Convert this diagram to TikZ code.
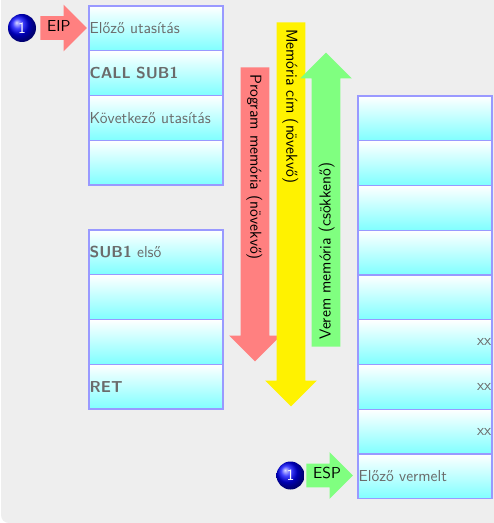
\documentclass[tikz,border=0pt]{standalone}
\usetikzlibrary{positioning,shapes.arrows}
\definecolor{hatter}{HTML}{EEEEEE}
\definecolor{cellaszel}{HTML}{9999FF}
\definecolor{cellaszoveg}{HTML}{6B6B6B}
\tikzset{
	>=stealth,
	cella/.style={
		rectangle,
		draw=cellaszel, line width=.8pt,
		top color=white, bottom color=cyan!50,
		text width=99.5pt, align=left,
		minimum width=100.5pt, minimum height=33.56pt,
		inner xsep=.5pt, inner ysep=1pt, outer sep=0pt,
		text=cellaszoveg,
		font=\sffamily\fontsize{11.9}{13}\selectfont,
		anchor=north west},
	nyil/.style={
		single arrow,
		single arrow head extend=8.625pt,
		draw=none,
		inner ysep=0pt, inner xsep=5pt,
		text=black, align=left,
		font=\sffamily\fontsize{11.9}{13}\selectfont,
		anchor=tail},
	nagynyil/.style={nyil, text height=14pt, text depth=7pt},
	kisnyil/.style={nyil, text height=11pt, text depth=6.25pt, text width=15.75pt},
	golyo/.style={
		circle, ball color=blue,
		inner sep=0pt, minimum size=21pt,
		text=white, font=\sffamily\fontsize{11.9}{13}\selectfont},
}
\begin{document}
\begin{tikzpicture}[x=.75pt,y=-.75pt]
	\useasboundingbox (0,0) rectangle (493,523);
	% background
	\fill[white] (0,0) rectangle (493,523);
	\fill[hatter, rounded corners=6pt] (1,-20) rectangle (520,523);

	% program memory
	\node[cella] (prog1) at (89,6) {Előző utasítás};
	\foreach \x/\y/\text in {1/2/\textbf{CALL SUB1}, 2/3/Következő utasítás, 3/4/}
		\node[cella, below=0pt of prog\x.south west, anchor=north west] (prog\y) {\text};

	% subroutine
	\node[cella] (sub1) at (89,230) {\textbf{SUB1} első};
	\foreach \x/\y/\text in {1/2/, 2/3/, 3/4/\textbf{RET}}
		\node[cella, below=0pt of sub\x.south west, anchor=north west] (sub\y) {\text};

	% stack
	\node[cella] (verem1) at (358,96) {};
	\foreach \x/\y/\text in {1/2/, 2/3/, 3/4/, 4/5/, 5/6/xx, 6/7/xx, 7/8/xx}
		\node[cella, below=0pt of verem\x.south west, anchor=north west] (verem\y) {\hfill\text};
	\node[cella, below=0pt of verem8.south west, anchor=north west] (verem9) {Előző vermelt};

	% direction arrows
	\node[nagynyil, fill=red!50, rotate=-90, text width=199.5pt] (programnyil) at (255,67) {Program memória (növekvő)};
	\node[nagynyil, fill=yellow, rotate=-90, text width=267pt] (cimnyil) at (291,22) {Memória cím (növekvő)};
	\node[nagynyil, fill=green!50, rotate=90, text width=199.5pt] (veremnyil) at (326,347) {Verem memória (csökkenő)};

	% pointers
	\node[kisnyil, fill=red!50] (eip) at (40,28) {\makebox[0pt][l]{EIP}};
	\node[kisnyil, fill=green!50] (esp) at (306,475.5) {\makebox[0pt][l]{ESP}};
	\node[golyo] (golyo1) at (22,28) {1};
	\node[golyo] (golyo2) at (290.5,475.5) {1};
\end{tikzpicture}
\end{document}
